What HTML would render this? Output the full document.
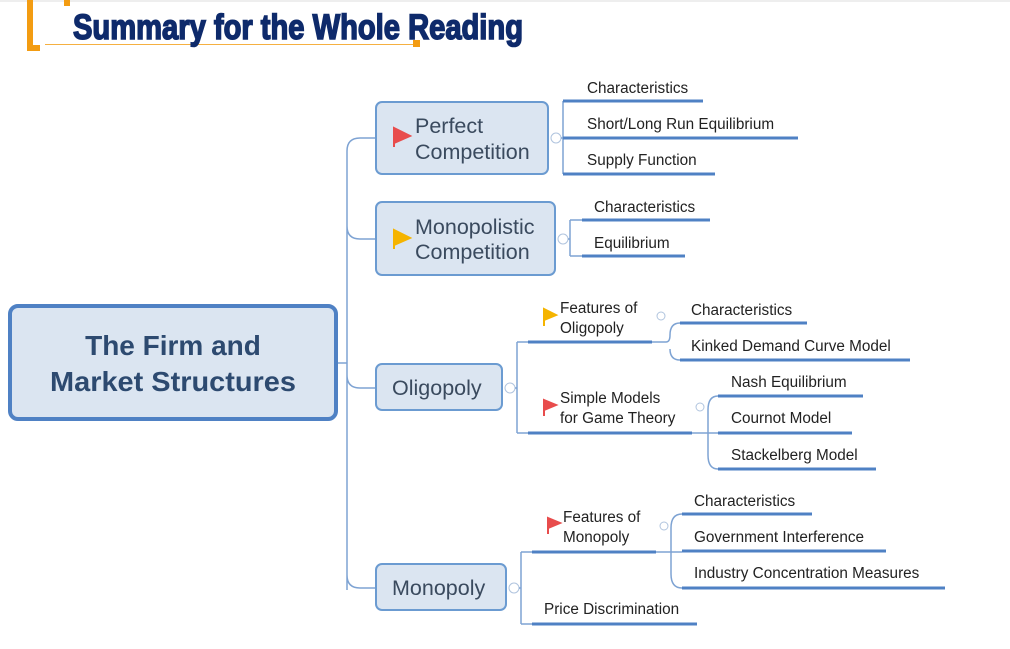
<!DOCTYPE html>
<html><head><meta charset="utf-8"><style>
body{margin:0;background:#fff;}
svg{display:block;font-family:"Liberation Sans","DejaVu Sans",sans-serif;}
.t{font-size:15.3px;fill:#222;}
.b{font-size:21.5px;fill:#3a4a5e;}
.u{stroke:#4f81c4;stroke-width:3;fill:none;}
.c{stroke:#7ea3d3;stroke-width:1.5;fill:none;}
.box{fill:#dbe5f1;stroke:#6b9bd1;stroke-width:2;}
.ci{fill:#fff;stroke:#b0c4de;stroke-width:1;}
</style></head><body>
<svg width="1010" height="649" viewBox="0 0 1010 649">
<!-- header -->
<rect x="0" y="0" width="1010" height="2" fill="#eee"/>
<rect x="27" y="0" width="6" height="51" fill="#f39c12"/>
<rect x="27" y="45" width="13" height="6" fill="#f39c12"/>
<rect x="64" y="0" width="6" height="6" fill="#f39c12"/>
<line x1="45" y1="44.5" x2="416" y2="44.5" stroke="#f5b041" stroke-width="1"/>
<rect x="413" y="40" width="7" height="7" fill="#f39c12"/>
<text x="73" y="39" font-family="'Liberation Sans Narrow','Liberation Sans',sans-serif" font-weight="bold" font-size="35" fill="#0e2a6b" stroke="#0e2a6b" stroke-width="1.6" textLength="450" lengthAdjust="spacingAndGlyphs">Summary for the Whole Reading</text>

<!-- trunk -->
<path class="c" d="M337 363 H347 M360 138 H376 M360 239 H376 M360 388 H376 M360 588 H376 M347 590 V151 Q347 138 360 138 M347 226 Q347 239 360 239 M347 375 Q347 388 360 388 M347 575 Q347 588 360 588"/>

<!-- root -->
<rect x="10" y="306" width="326" height="113" rx="8" fill="#dbe5f1" stroke="#4f81c4" stroke-width="4"/>
<text x="173" y="355" text-anchor="middle" font-size="28" font-weight="bold" fill="#2d4a70">The Firm and</text>
<text x="173" y="391" text-anchor="middle" font-size="28" font-weight="bold" fill="#2d4a70" textLength="246" lengthAdjust="spacingAndGlyphs">Market Structures</text>

<!-- Perfect -->
<rect class="box" x="376" y="102" width="172" height="72" rx="6"/>
<path d="M394 128 V147 M394 128 L410 136 L394 143Z" fill="#e84c4c" stroke="#e84c4c" stroke-width="2"/>
<text class="b" x="415" y="133">Perfect</text>
<text class="b" x="415" y="159">Competition</text>
<circle class="ci" cx="556" cy="138" r="5"/>
<path class="c" d="M561 138 H563 M563 101 V174"/>
<path class="u" d="M563 101 H703 M563 138 H798 M563 174 H715"/>
<text class="t" x="587" y="93">Characteristics</text>
<text class="t" x="587" y="129">Short/Long Run Equilibrium</text>
<text class="t" x="587" y="165">Supply Function</text>

<!-- Monopolistic -->
<rect class="box" x="376" y="202" width="179" height="73" rx="6"/>
<path d="M394 230 V249 M394 230 L410 238 L394 245Z" fill="#f5b400" stroke="#f5b400" stroke-width="2"/>
<text class="b" x="415" y="234">Monopolistic</text>
<text class="b" x="415" y="259">Competition</text>
<circle class="ci" cx="563" cy="239" r="5"/>
<path class="c" d="M568 239 H570 M570 220 V256 M570 220 H582 M570 256 H582"/>
<path class="u" d="M582 220 H710 M582 256 H685"/>
<text class="t" x="594" y="212">Characteristics</text>
<text class="t" x="594" y="248">Equilibrium</text>

<!-- Oligopoly -->
<rect class="box" x="376" y="364" width="126" height="46" rx="6"/>
<text class="b" x="392" y="395">Oligopoly</text>
<circle class="ci" cx="510" cy="388" r="5"/>
<path class="c" d="M515 388 H517 M517 342 V433 M517 342 H528 M517 433 H528"/>
<path class="u" d="M528 342 H652 M528 433 H692"/>
<path d="M544 309 V326 M544 309 L556 315 L544 320Z" fill="#f5b400" stroke="#f5b400" stroke-width="2"/>
<text class="t" x="560" y="313">Features of</text>
<text class="t" x="560" y="333">Oligopoly</text>
<circle class="ci" cx="661" cy="316" r="4"/>
<path class="c" d="M652 342 H666 Q670 342 670 335 Q670 323 680 323 M670 349 Q670 360 680 360"/>
<path class="u" d="M680 323 H807 M680 360 H910"/>
<text class="t" x="691" y="315">Characteristics</text>
<text class="t" x="691" y="351">Kinked Demand Curve Model</text>
<path d="M544 400 V416 M544 400 L556 405 L544 410Z" fill="#e84c4c" stroke="#e84c4c" stroke-width="2"/>
<text class="t" x="560" y="403">Simple Models</text>
<text class="t" x="560" y="423">for Game Theory</text>
<circle class="ci" cx="700" cy="407" r="4"/>
<path class="c" d="M692 433 H718 M718 396 Q708 396 708 410 V455 Q708 469 718 469"/>
<path class="u" d="M718 396 H863 M718 433 H852 M718 469 H876"/>
<text class="t" x="731" y="387">Nash Equilibrium</text>
<text class="t" x="731" y="423">Cournot Model</text>
<text class="t" x="731" y="460">Stackelberg Model</text>

<!-- Monopoly -->
<rect class="box" x="376" y="564" width="130" height="46" rx="6"/>
<text class="b" x="392" y="595">Monopoly</text>
<circle class="ci" cx="514" cy="588" r="5"/>
<path class="c" d="M519 588 H521 M521 552 V624 M521 552 H532 M521 624 H532"/>
<path class="u" d="M532 552 H656 M532 624 H697"/>
<path d="M548 518 V534 M548 518 L560 523 L548 528Z" fill="#e84c4c" stroke="#e84c4c" stroke-width="2"/>
<text class="t" x="563" y="522">Features of</text>
<text class="t" x="563" y="542">Monopoly</text>
<circle class="ci" cx="664" cy="526" r="4"/>
<path class="c" d="M656 552 H682 M682 514 Q671 514 671 528 V574 Q671 588 682 588"/>
<path class="u" d="M682 514 H812 M682 551 H886 M682 588 H945"/>
<text class="t" x="694" y="506">Characteristics</text>
<text class="t" x="694" y="542">Government Interference</text>
<text class="t" x="694" y="578">Industry Concentration Measures</text>
<text class="t" x="544" y="614">Price Discrimination</text>
</svg>
</body></html>
